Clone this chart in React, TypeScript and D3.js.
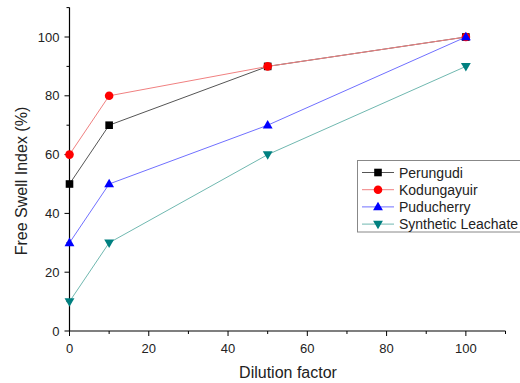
import React from "react";
import * as d3 from "d3";

const dilution = [0, 10, 50, 100];
const perungudi = [50, 70, 90, 100];
const kodungayuir = [60, 80, 90, 100];
const puducherry = [30, 50, 70, 100];
const synthetic = [10, 30, 60, 90];
const seriesNames = ["Perungudi", "Kodungayuir", "Puducherry", "Synthetic Leachate"];
const xTicks = [0, 20, 40, 60, 80, 100];
const yTicks = [0, 20, 40, 60, 80, 100];

const W = 520, H = 383;
const x = d3.scaleLinear().domain([0, 110]).range([69.5, 505.5]);
const y = d3.scaleLinear().domain([0, 110]).range([331, 7.6]);

const colors = ["#000000", "#ff0000", "#0000ff", "#008080"];
const lineColors = ["#555555", "#f08080", "#7070ff", "#70b8b0"];
const shapes = ["square", "circle", "triangle", "triangleDown"];

function Marker({ shape, cx, cy, color }: { shape: string; cx: number; cy: number; color: string }) {
  if (shape === "square") return <rect x={cx - 3.8} y={cy - 3.8} width={7.6} height={7.6} fill={color} />;
  if (shape === "circle") return <circle cx={cx} cy={cy} r={4.3} fill={color} />;
  const sym = d3.symbol().type(d3.symbolTriangle).size(42)();
  return (
    <path d={sym || ""} transform={`translate(${cx},${cy + (shape === "triangle" ? 0.5 : -0.5)}) rotate(${shape === "triangle" ? 0 : 180})`} fill={color} />
  );
}

export default function App() {
  const data = [perungudi, kodungayuir, puducherry, synthetic];
  const line = d3.line<number>().x((_, i) => x(dilution[i])).y((d) => y(d));
  const minorX = d3.range(10, 111, 20);
  const minorY = d3.range(10, 111, 20);
  const font = "Liberation Sans, Arial, sans-serif";
  return (
    <svg width={W} height={H} style={{ position: "absolute", left: 0, top: 0, background: "#fff" }} fontFamily={font}>
      <line x1={x(0)} x2={x(0)} y1={y(110)} y2={y(0)} stroke="#000" strokeWidth={1.2} />
      <line x1={x(0)} x2={x(110)} y1={y(0)} y2={y(0)} stroke="#000" strokeWidth={1.2} />
      {yTicks.map((t) => (
        <g key={"yt" + t}>
          <line x1={x(0) - 5} x2={x(0)} y1={y(t)} y2={y(t)} stroke="#000" />
          <text x={x(0) - 10} y={y(t)} dy="0.36em" textAnchor="end" fontSize={13} fill="#222">{t}</text>
        </g>
      ))}
      {minorY.map((t) => (
        <line key={"ym" + t} x1={x(0) - 3} x2={x(0)} y1={y(t)} y2={y(t)} stroke="#000" />
      ))}
      {xTicks.map((t) => (
        <g key={"xt" + t}>
          <line x1={x(t)} x2={x(t)} y1={y(0)} y2={y(0) + 5} stroke="#000" />
          <text x={x(t)} y={353} textAnchor="middle" fontSize={13} fill="#222">{t}</text>
        </g>
      ))}
      {minorX.map((t) => (
        <line key={"xm" + t} x1={x(t)} x2={x(t)} y1={y(0)} y2={y(0) + 3} stroke="#000" />
      ))}
      <text x={288} y={378} textAnchor="middle" fontSize={16} fill="#222">Dilution factor</text>
      <text transform={`translate(27,181) rotate(-90)`} textAnchor="middle" fontSize={16} fill="#222">Free Swell Index (%)</text>
      {data.map((s, k) => (
        <path key={"l" + k} d={line(s) || ""} fill="none" stroke={lineColors[k]} strokeWidth={1} />
      ))}
      {data.map((s, k) => (
        <g key={"m" + k}>
          {s.map((v, i) => (
            <Marker key={i} shape={shapes[k]} cx={x(dilution[i])} cy={y(v)} color={colors[k]} />
          ))}
        </g>
      ))}
      <rect x={357.5} y={160.5} width={170} height={71.5} fill="#fff" stroke="#888" strokeWidth={1} />
      {seriesNames.map((n, k) => {
        const ly = 172.5 + k * 17.2;
        return (
          <g key={"lg" + k}>
            <line x1={362} x2={394} y1={ly} y2={ly} stroke={lineColors[k]} strokeWidth={1} />
            <Marker shape={shapes[k]} cx={378} cy={ly} color={colors[k]} />
            <text x={399} y={ly} dy="0.36em" fontSize={14} fill="#222">{n}</text>
          </g>
        );
      })}
    </svg>
  );
}
